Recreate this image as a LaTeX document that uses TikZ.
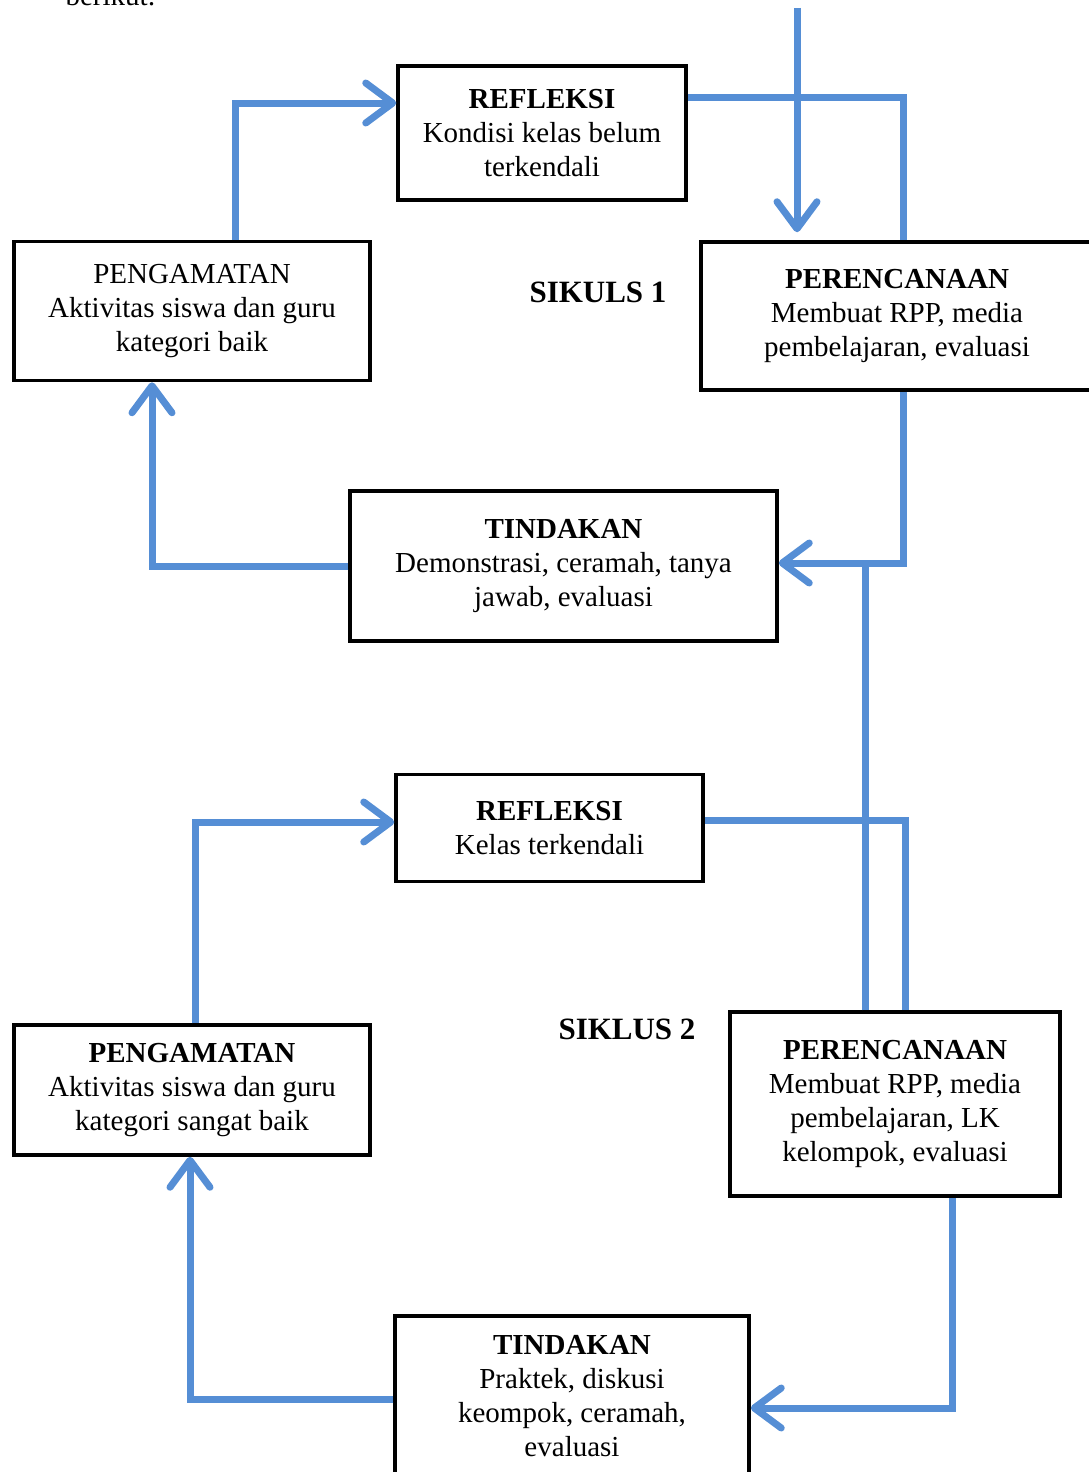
\documentclass[tikz,border=0pt]{standalone}
\usepackage{fontspec}
\setmainfont{Liberation Serif}
\usetikzlibrary{positioning,arrows.meta}
\definecolor{flowblue}{RGB}{85,142,213}

\begin{document}
\begin{tikzpicture}[x=1pt,y=-1pt,
    font=\fontsize{29}{34}\selectfont,
    box/.style={draw, line width=3.5pt, align=center, inner sep=0pt},
    flow/.style={draw=flowblue, line width=7pt,
        -{Straight Barb[length=27pt,width=40pt,line cap=round,line join=round]}},
    link/.style={draw=flowblue, line width=7pt}]
    \useasboundingbox (0,0) rectangle (1089,1472);
    \node[anchor=base west] (intro) at (62,6) {berikut:};

    % siklus 1
    \node[box, minimum width=288, minimum height=134] (refl_1) at (542,133)
        {\textbf{REFLEKSI}\\Kondisi kelas belum\\terkendali};
    \node[box, minimum width=356, minimum height=139] (obs_1) at (192,311)
        {PENGAMATAN\\Aktivitas siswa dan guru\\kategori baik};
    \node[box, minimum width=392, minimum height=148] (plan_1) at (897,316)
        {\textbf{PERENCANAAN}\\Membuat RPP, media\\pembelajaran, evaluasi};
    \node[box, minimum width=427, minimum height=150] (act_1) at (563.5,566)
        {\textbf{TINDAKAN}\\Demonstrasi, ceramah, tanya\\jawab, evaluasi};
    \node[font=\fontsize{31}{36}\selectfont] (cyc_1) at (598,292) {\textbf{SIKULS 1}};

    % siklus 2
    \node[box, minimum width=307, minimum height=107] (refl_2) at (549.5,828)
        {\textbf{REFLEKSI}\\Kelas terkendali};
    \node[box, minimum width=356, minimum height=130] (obs_2) at (192,1090)
        {\textbf{PENGAMATAN}\\Aktivitas siswa dan guru\\kategori sangat baik};
    \node[box, minimum width=330, minimum height=184] (plan_2) at (895,1104)
        {\textbf{PERENCANAAN}\\Membuat RPP, media\\pembelajaran, LK\\kelompok, evaluasi};
    \node[box, minimum width=354, minimum height=160] (act_2) at (572,1396)
        {\textbf{TINDAKAN}\\Praktek, diskusi\\keompok, ceramah,\\evaluasi};
    \node[font=\fontsize{31}{36}\selectfont] (cyc_2) at (627,1029) {\textbf{SIKLUS 2}};

    \coordinate (start) at (797,8);
    \coordinate (join) at (865,563);

    \path[flow] ([xshift=43pt]obs_1.north) |- ([yshift=30pt]refl_1.west);
    \path[link] ([yshift=36pt]refl_1.east) -| ([xshift=6pt]plan_1.north);
    \path[flow, shorten >=8pt] (start) -- (start |- plan_1.north);
    \path[flow] ([xshift=6pt]plan_1.south) |- ([yshift=3pt]act_1.east);
    \path[flow] (act_1.west) -| ([xshift=-40pt]obs_1.south);
    \path[link] (join |- plan_2.north) -- (join);

    \path[link] ([yshift=8pt]refl_2.east) -| ([xshift=10pt]plan_2.north);
    \path[flow] ([xshift=3pt]obs_2.north) |- ([yshift=6pt]refl_2.west);
    \path[flow] ([xshift=57pt]plan_2.south) |- ([yshift=-12pt]act_2.east);
    \path[flow] ([yshift=-3pt]act_2.west) -| ([xshift=-2pt]obs_2.south);
\end{tikzpicture}
\end{document}
